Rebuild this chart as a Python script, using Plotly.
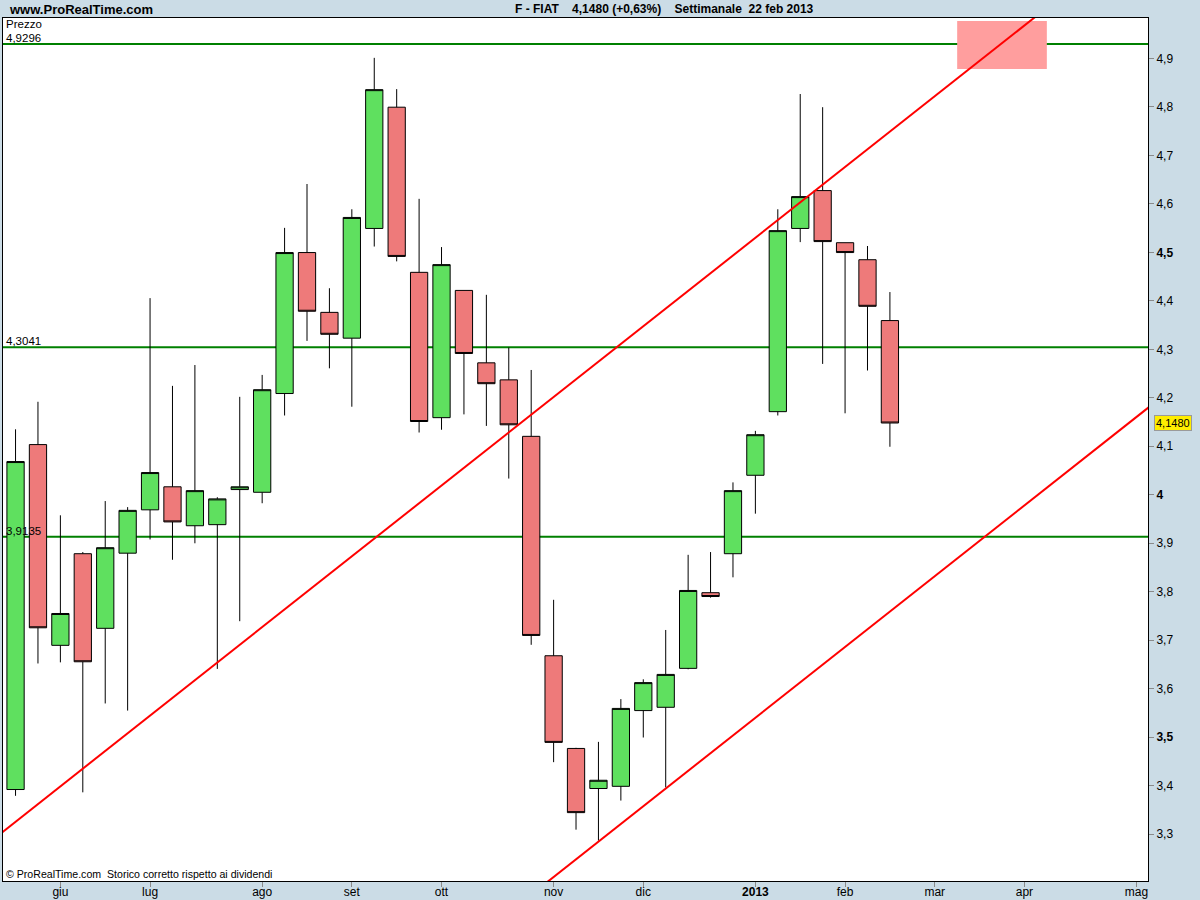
import pandas as pd
import plotly.graph_objects as go

# ---- data (weekly candles, FIAT) ----
week_start = "2012-05-21"
n_weeks = 40
open_ = [3.392, 4.1035, 3.6894, 3.8784, 3.7245, 3.8795, 3.9689, 4.0164, 3.9361, 3.9383,
         4.0107, 4.0051, 4.2088, 4.4996, 4.3762, 4.323, 4.5493, 4.7994, 4.4588, 4.159,
         4.4215, 4.2721, 4.237, 4.1205, 3.6679, 3.4767, 3.3941, 3.3986, 3.5548, 3.5616,
         3.6419, 3.798, 3.8784, 4.0402, 4.1714, 4.5493, 4.6274, 4.5199, 4.4848, 4.3593]
high = [4.135, 4.1918, 3.9576, 3.8818, 3.987, 3.9745, 4.4056, 4.2246, 4.2676, 3.9949,
        4.202, 4.2472, 4.5505, 4.641, 4.426, 4.5889, 4.9012, 4.8367, 4.6104, 4.5109,
        4.4215, 4.4124, 4.3038, 4.2574, 3.7833, 3.478, 3.4903, 3.5785, 3.6193, 3.7211,
        3.8761, 3.8818, 4.0255, 4.1318, 4.5889, 4.8266, 4.7994, 4.5199, 4.5131, 4.4181]
low = [3.379, 3.652, 3.6543, 3.3862, 3.5695, 3.5548, 3.9078, 3.8659, 3.8999, 3.6408,
       3.7392, 3.9825, 4.1635, 4.3174, 4.2608, 4.1816, 4.512, 4.4814, 4.1284, 4.1341,
       4.1658, 4.142, 4.0334, 3.6905, 3.4484, 3.3092, 3.2866, 3.3692, 3.4993, 3.3964,
       3.64, 3.7878, 3.8297, 3.961, 4.1635, 4.5211, 4.2699, 4.168, 4.2563, 4.099]
close = [4.0685, 3.7256, 3.7551, 3.6555, 3.8908, 3.9678, 4.0458, 3.944, 4.0085, 3.9915,
         4.0164, 4.2167, 4.4996, 4.3785, 4.331, 4.572, 4.8356, 4.4916, 4.1511, 4.4747,
         4.2914, 4.2291, 4.1443, 3.7098, 3.4892, 3.3443, 3.4111, 3.5593, 3.6125, 3.6294,
         3.8026, 3.7901, 4.0085, 4.1239, 4.5448, 4.615, 4.5222, 4.4996, 4.3887, 4.148]

level_values = [4.9296, 4.3041, 3.9135]
level_labels = ["4,9296", "4,3041", "3,9135"]

upper_line_x = ["2012-05-14", "2013-05-20"]
upper_line_y = [3.2890, 5.2235]
lower_line_x = ["2012-10-29", "2013-05-20"]
lower_line_y = [3.1750, 4.2335]

target_box_x = ["2013-03-11", "2013-04-08"]
target_box_y = [4.8782, 4.9773]

last_price = 4.148
last_price_label = "4,1480"

month_tick_dates = ["2012-06-04", "2012-07-02", "2012-08-06", "2012-09-03", "2012-10-01",
                    "2012-11-05", "2012-12-03", "2013-01-07", "2013-02-04", "2013-03-04",
                    "2013-04-01", "2013-05-06"]
month_tick_labels = ["giu", "lug", "ago", "set", "ott", "nov", "dic", "<b>2013</b>",
                     "feb", "mar", "apr", "mag"]

price_ticks = [3.3, 3.4, 3.5, 3.6, 3.7, 3.8, 3.9, 4.0, 4.1, 4.2, 4.3, 4.4, 4.5, 4.6, 4.7, 4.8, 4.9]
price_tick_labels = ["3,3", "3,4", "<b>3,5</b>", "3,6", "3,7", "3,8", "3,9", "<b>4</b>", "4,1",
                     "4,2", "4,3", "4,4", "<b>4,5</b>", "4,6", "4,7", "4,8", "4,9"]

dates = pd.date_range(week_start, periods=n_weeks, freq="7D")

FONT = "Liberation Sans, Arial, sans-serif"
GREEN_FILL = "#5fe05f"
RED_FILL = "#ee7a7a"

fig = go.Figure()

# target box (below everything)
fig.add_shape(type="rect", xref="x", yref="y",
              x0=target_box_x[0], x1=target_box_x[1], y0=target_box_y[0], y1=target_box_y[1],
              fillcolor="#ff9e9e", line=dict(width=0), layer="below")

# horizontal levels
for v in level_values:
    fig.add_shape(type="line", xref="paper", yref="y", x0=0, x1=1, y0=v, y1=v,
                  line=dict(color="#008000", width=2), layer="below")

# trend channel
fig.add_trace(go.Scatter(x=upper_line_x, y=upper_line_y, mode="lines",
                         line=dict(color="#ff0000", width=2), hoverinfo="skip", showlegend=False))
fig.add_trace(go.Scatter(x=lower_line_x, y=lower_line_y, mode="lines",
                         line=dict(color="#ff0000", width=2), hoverinfo="skip", showlegend=False))

# candles
fig.add_trace(go.Candlestick(
    x=dates, open=open_, high=high, low=low, close=close,
    increasing=dict(fillcolor=GREEN_FILL, line=dict(color="black", width=1)),
    decreasing=dict(fillcolor=RED_FILL, line=dict(color="black", width=1)),
    whiskerwidth=0, showlegend=False, hoverinfo="skip"))

# level labels
for v, lab in zip(level_values, level_labels):
    fig.add_annotation(xref="paper", yref="y", x=0, y=v, text=lab, showarrow=False,
                       xanchor="left", yanchor="bottom", xshift=1, yshift=-2,
                       font=dict(family=FONT, size=11.5, color="black"))

fig.add_annotation(xref="paper", yref="paper", x=0, y=1, text="Prezzo", showarrow=False,
                   xanchor="left", yanchor="top", xshift=1, yshift=2,
                   font=dict(family=FONT, size=11.5, color="black"))

fig.add_annotation(xref="paper", yref="paper", x=0, y=0,
                   text="© ProRealTime.com\u00a0 Storico corretto rispetto ai dividendi",
                   showarrow=False, xanchor="left", yanchor="bottom", xshift=1, yshift=-1,
                   font=dict(family=FONT, size=10.6, color="black"))

# header
fig.add_annotation(xref="paper", yref="paper", x=0, y=1, text="<b>www.ProRealTime.com</b>",
                   showarrow=False, xanchor="left", yanchor="middle", xshift=4, yshift=9,
                   font=dict(family=FONT, size=13, color="black"))
fig.add_annotation(xref="paper", yref="paper", x=0.578, y=1,
                   text="<b>F - FIAT\u00a0\u00a0\u00a0 4,1480 (+0,63%)\u00a0\u00a0\u00a0 Settimanale\u00a0 22 feb 2013</b>",
                   showarrow=False, xanchor="center", yanchor="middle", yshift=9,
                   font=dict(family=FONT, size=12, color="black"))

# last price badge
fig.add_annotation(xref="paper", yref="y", x=1, y=last_price, text=last_price_label,
                   showarrow=False, xanchor="left", yanchor="middle", xshift=6,
                   bgcolor="#ffee00", bordercolor="#9a9a9a", borderwidth=1, borderpad=1,
                   font=dict(family=FONT, size=11, color="black"))

fig.update_layout(
    width=1200, height=900,
    margin=dict(l=3, r=52, t=18, b=19),
    paper_bgcolor="#cbdce6", plot_bgcolor="white",
    boxgap=0.23, boxgroupgap=0,
    showlegend=False,
    xaxis=dict(
        type="date",
        range=["2012-05-17 02:00", "2013-05-09 14:00"],
        tickvals=month_tick_dates, ticktext=month_tick_labels,
        ticks="outside", ticklen=5, tickcolor="#8a8a8a",
        ticklabelstandoff=-5,
        tickfont=dict(family=FONT, size=12, color="black"),
        showgrid=False, zeroline=False,
        showline=True, linecolor="black", linewidth=1, mirror=True,
        rangeslider=dict(visible=False), automargin=False, fixedrange=True),
    yaxis=dict(
        side="right",
        range=[3.2033, 4.9834],
        tickvals=price_ticks, ticktext=price_tick_labels,
        ticks="outside", ticklen=5, tickcolor="#8a8a8a",
        tickfont=dict(family=FONT, size=12, color="black"),
        showgrid=False, zeroline=False,
        showline=True, linecolor="black", linewidth=1, mirror=True,
        automargin=False, fixedrange=True),
)

fig.write_html("out.html", config={"displayModeBar": False},
               post_script="document.body.style.margin='0';document.body.style.padding='0';")
